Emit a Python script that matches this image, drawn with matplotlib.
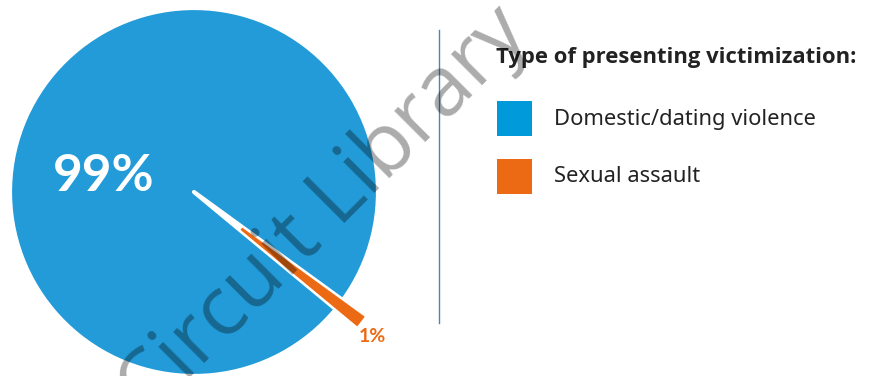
import matplotlib.pyplot as plt

# share of clients by presenting victimization
categories = ['Domestic/dating violence', 'Sexual assault']
shares = [99, 1]
pct_labels = ['99%', '1%']
colors = ['#229bd8', '#ec6a13']
legend_colors = ['#0099da', '#ec6a13']

W, H = 879, 376
fig = plt.figure(figsize=(W / 100, H / 100), dpi=100)
ax = fig.add_axes([0, 0, 1, 1])

cx, cy, r = 194, H - 192, 184
wedges, _ = ax.pie(shares, colors=colors, startangle=-36, center=(cx, cy),
                   radius=r, explode=[0, 60], frame=True,
                   wedgeprops=dict(linewidth=0))
ax.set_xlim(0, W)
ax.set_ylim(0, H)
ax.set_aspect('equal')
ax.axis('off')

# white stroke on the big slice widens the notch
wedges[0].set_edgecolor('white')
wedges[0].set_linewidth(3)
wedges[0].set_joinstyle('round')
# the small slice is drawn shorter than the full radius
wedges[1].set_radius(150)
wedges[1].set_edgecolor(colors[1])
wedges[1].set_linewidth(2)

ax.text(104, H - 177, pct_labels[0], color='white', fontsize=37,
        fontweight='bold', family='Lato', ha='center', va='center')
ax.text(372, H - 336, pct_labels[1], color=colors[1], fontsize=14,
        fontweight='bold', family='Lato', ha='center', va='center')

# divider
ax.plot([439, 439], [H - 30, H - 323], color='#4a86b8', lw=1)

# legend
ax.text(496, H - 57, 'Type of presenting victimization:', fontsize=15.8,
        fontweight='bold', family='Open Sans', color='#222222', va='center')
for i, (lab, col) in enumerate(zip(categories, legend_colors)):
    y0 = H - 101 - i * 58
    ax.add_patch(plt.Rectangle((497, y0 - 35), 35, 35, color=col, lw=0))
    ax.text(554, y0 - 18, lab, fontsize=15.8, family='Noto Sans',
            color='#222222', va='center')

# watermark
ax.text(340, H - 228, 'Circuit Library', fontsize=60, family='Open Sans',
        color='black', alpha=0.33, rotation=45, rotation_mode='anchor',
        ha='center', va='baseline', zorder=10)

fig.savefig('out.png', dpi=100)
